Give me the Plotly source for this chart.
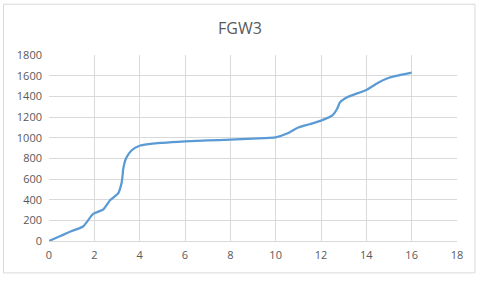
import plotly.graph_objects as go

x_vals = [0, 0.5, 1.0, 1.5, 1.95, 2.4, 2.7, 3.05, 3.2, 3.25, 3.27, 3.4, 3.65, 4.0, 5.0, 6.0, 7.0, 8.0, 9.0, 10.0, 10.5, 11.0, 11.5, 12.0, 12.5, 12.7, 12.85, 13.2, 14.0, 14.5, 15.0, 16.0]
y_vals = [0, 48, 96, 140, 262, 306, 396, 460, 560, 640, 690, 800, 878, 922, 950, 965, 973, 980, 990, 1003, 1040, 1098, 1130, 1165, 1215, 1275, 1345, 1395, 1462, 1530, 1580, 1630]

x_ticks = [0, 2, 4, 6, 8, 10, 12, 14, 16, 18]
y_ticks = [0, 200, 400, 600, 800, 1000, 1200, 1400, 1600, 1800]

fig = go.Figure()
fig.add_trace(go.Scatter(x=x_vals, y=y_vals, mode="lines",
                         line=dict(color="#5b9bd5", width=2.25, shape="spline", smoothing=0.6),
                         showlegend=False, hoverinfo="skip"))

fig.update_layout(
    width=480, height=282,
    margin=dict(l=49, r=23, t=54.5, b=41, autoexpand=False),
    paper_bgcolor="white", plot_bgcolor="white",
    title=dict(text="FGW3", x=0.5, xanchor="center", y=0.9, yanchor="middle",
               font=dict(family="Open Sans, Liberation Sans, Arial", size=16, color="#595959")),
    font=dict(family="Open Sans, Liberation Sans, Arial", size=11, color="#595959"),
    xaxis=dict(range=[0, 18], tickvals=x_ticks, showgrid=True, gridcolor="#d9d9d9", gridwidth=1,
               zeroline=False, showline=True, linecolor="#d9d9d9", ticks="", ticklen=0,
               automargin=False, ticklabelstandoff=4,
               tickfont=dict(size=11, color="#595959")),
    yaxis=dict(range=[0, 1800], tickvals=y_ticks, showgrid=True, gridcolor="#d9d9d9", gridwidth=1,
               zeroline=False, showline=False, ticks="", ticklabelstandoff=6, automargin=False,
               tickfont=dict(size=11, color="#595959")),
    shapes=[dict(type="rect", xref="paper", yref="paper",
                 x0=-0.1115, x1=1.044, y0=-0.1716, y1=1.273,
                 line=dict(color="#d9d9d9", width=1), fillcolor="rgba(0,0,0,0)", layer="below")],
)

fig.write_html("out.html", config={"displayModeBar": False},
               post_script="document.body.style.margin='0';document.body.style.overflow='hidden';")
